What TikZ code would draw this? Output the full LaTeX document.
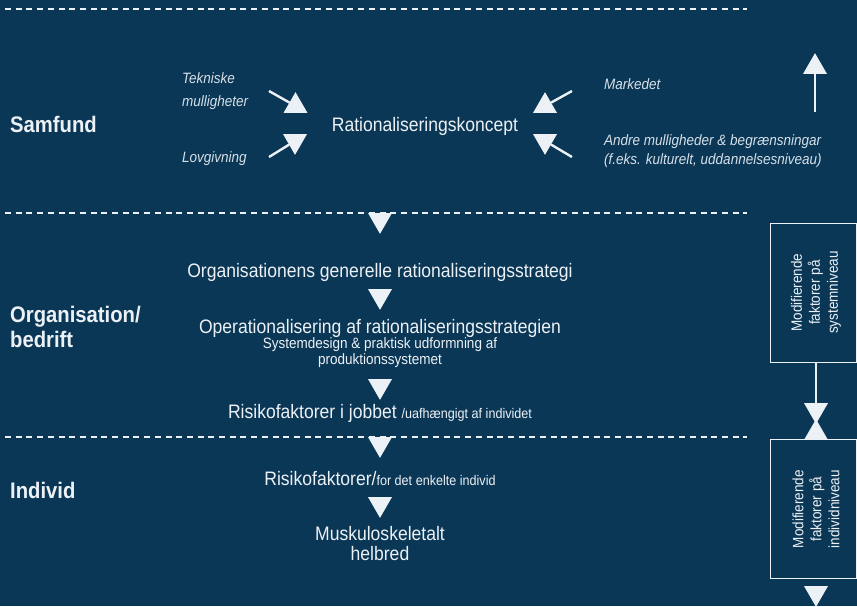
\documentclass[tikz,border=0pt]{standalone}
\usepackage{fontspec}
\setmainfont{Liberation Sans}[FakeStretch=0.9]
\usetikzlibrary{shapes.geometric}
\definecolor{bg}{RGB}{11,55,86}
\definecolor{ink}{RGB}{236,241,245}
\definecolor{soft}{RGB}{214,224,232}
\newcommand{\notesize}{\fontsize{14}{17}\selectfont}
\begin{document}
\begin{tikzpicture}[x=1pt,y=-1pt,
  tri/.style={regular polygon, regular polygon sides=3, fill=ink, draw=none,
    inner sep=0pt, outer sep=0pt, minimum size=27.7pt},
  tridown/.style={tri, shape border rotate=180},
  sepline/.style={draw=ink, line width=1.3pt, dash pattern=on 6pt off 4.7pt},
  shaft/.style={draw=ink, line width=2.4pt},
  thin/.style={draw=ink, line width=1.4pt},
  level/.style={text=ink, inner sep=0pt, anchor=base west,
    font=\fontsize{22.5}{26}\selectfont\bfseries},
  stage/.style={text=ink, inner sep=0pt, anchor=base,
    font=\fontsize{19.5}{23}\selectfont},
  note/.style={text=ink, inner sep=0pt, anchor=base,
    font=\fontsize{15}{18}\selectfont},
  factor/.style={text=soft, inner sep=0pt, anchor=base west,
    font=\fontsize{15}{19}\selectfont\itshape},
  modbox/.style={draw=ink, line width=1pt, fill=bg, minimum width=86pt,
    minimum height=139pt, inner sep=0pt},
  boxtext/.style={text=ink, align=center, rotate=90,
    font=\fontsize{15}{18}\selectfont}
]
% background and page frame
\fill[bg] (0,0) rectangle (857,606);
\useasboundingbox (0,0) rectangle (857,606);

% level separators
\draw[sepline] (5,9) -- (747,9);
\draw[sepline] (5,213) -- (747,213);
\draw[sepline] (5,437) -- (747,437);

% level names
\node[level] (samfund) at (10,132) {Samfund};
\node[level] (org) at (10,322) {Organisation/};
\node[level] (bedrift) at (10,347) {bedrift};
\node[level] (individ) at (10,498) {Individ};

% society level
\node[stage] (koncept) at (425,131) {Rationaliseringskoncept};
\node[factor] (tek1) at (182,83) {Tekniske};
\node[factor] (tek2) at (182,106) {mulligheter};
\node[factor] (lov) at (182,162) {Lovgivning};
\node[factor] (marked) at (604,89) {Markedet};
\node[factor] (andre1) at (604,145) {Andre mulligheder \& begrænsningar};
\node[factor] (andre2) at (604,164) {(f.eks. kulturelt, uddannelsesniveau)};

% converging arrows
\node[tri] (tA) at (295.5,106) {};
\node[tridown] (tB) at (295,141) {};
\node[tri] (tC) at (545,106) {};
\node[tridown] (tD) at (545,141) {};
\coordinate (sA) at (269,91);
\coordinate (sB) at (269,157);
\coordinate (sC) at (572,91);
\coordinate (sD) at (572,157);
\draw[shaft] (sA) -- (tA);
\draw[shaft] (sB) -- (tB);
\draw[shaft] (sC) -- (tC);
\draw[shaft] (sD) -- (tD);

% upward feedback arrow
\node[tri] (tUp) at (815,67) {};
\coordinate (sUp) at (815,112);
\draw[thin] (sUp) -- (tUp);

% organisation level
\node[tridown] (c1) at (380,220) {};
\node[stage] (strategi) at (380,277) {Organisationens generelle rationaliseringsstrategi};
\node[tridown] (c2) at (380,296) {};
\node[stage] (oper) at (380,333) {Operationalisering af rationaliseringsstrategien};
\node[note] (sys1) at (380,348) {Systemdesign \& praktisk udformning af};
\node[note] (sys2) at (380,364) {produktionssystemet};
\node[tridown] (c3) at (380,386) {};
\node[stage] (jobbet) at (380,418) {Risikofaktorer i jobbet {\notesize/uafhængigt af individet}};

% individual level
\node[tridown] (c4) at (380,444) {};
\node[stage] (indiv) at (380,485) {Risikofaktorer/{\notesize for det enkelte individ}};
\node[tridown] (c5) at (380,504) {};
\node[stage] (musk) at (380,540) {Muskuloskeletalt};
\node[stage] (helbred) at (380,560) {helbred};

% modifying factors
\node[modbox] (box1) at (813,292.5) {};
\node[boxtext] at ([xshift=3pt]box1.center) {Modifierende\\faktorer på\\systemniveau};
\node[modbox] (box2) at (813,509) {};
\node[boxtext] at ([xshift=3pt]box2.center) {Modifierende\\faktorer på\\individniveau};
\node[tridown] (h1) at (816,410) {};
\node[tri] (h2) at (816,433) {};
\draw[thin] (box1.south -| h1) -- (h1);
\node[tridown] (hb) at (816,593) {};
\end{tikzpicture}
\end{document}
